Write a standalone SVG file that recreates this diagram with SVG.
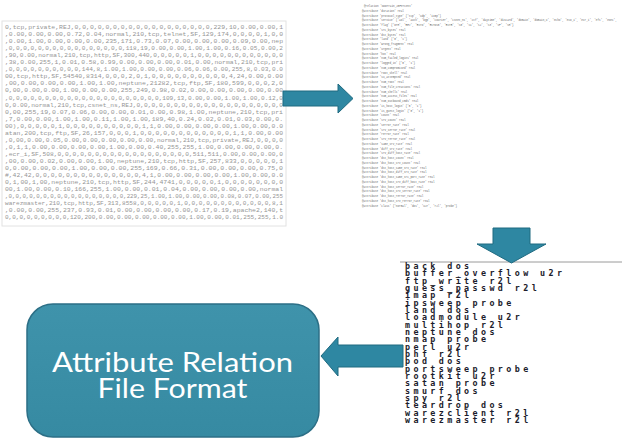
<svg xmlns="http://www.w3.org/2000/svg" width="631" height="440" viewBox="0 0 631 440">
<style>
.data{font-family:"Liberation Mono",monospace;font-size:6px;fill:#959595}
.hdr{font-family:"Liberation Mono",monospace;font-size:2.7px;fill:#666}
.lbl{font-family:"DejaVu Sans Mono",monospace;font-weight:bold;font-size:8.4px;letter-spacing:3.4px;fill:#1c1c2c}
.arrow{fill:#2e87a2;stroke:#1f6a80;stroke-width:1}
.box{fill:url(#boxg);stroke:#2c6f86;stroke-width:1.5}
.boxt{font-family:Lato,"Open Sans",sans-serif;font-size:27px;fill:#fff;text-anchor:middle}
</style>
<defs>
<linearGradient id="boxg" x1="0" y1="0" x2="0" y2="1">
<stop offset="0" stop-color="#3f93ab"/>
<stop offset="1" stop-color="#368aa2"/>
</linearGradient>
</defs>
<rect width="631" height="440" fill="#fff"/>
<g id="data-records">
<rect x="2" y="21" width="284" height="205" fill="#fff" stroke="#e2e2e2" stroke-width="1"/>
<g class="data">
<text x="5" y="29" textLength="278" lengthAdjust="spacingAndGlyphs">0,tcp,private,REJ,0,0,0,0,0,0,0,0,0,0,0,0,0,0,0,0,0,0,229,10,0.00,0.00,1</text>
<text x="5" y="36.05" textLength="278" lengthAdjust="spacingAndGlyphs">,0.00,0.00,0.00,0.72,0.04,normal,210,tcp,telnet,SF,129,174,0,0,0,0,1,0,0</text>
<text x="5" y="43.1" textLength="278" lengthAdjust="spacingAndGlyphs">,0.00,1.00,0.00,0.00,0.00,235,171,0.73,0.07,0.00,0.00,0.00,0.09,0.00,nep</text>
<text x="5" y="50.15" textLength="278" lengthAdjust="spacingAndGlyphs">,0,0,0,0,0,0,0,0,0,0,0,0,0,0,0,0,118,19,0.00,0.00,1.00,1.00,0.16,0.05,0.00,2</text>
<text x="5" y="57.2" textLength="278" lengthAdjust="spacingAndGlyphs">,90,0.00,normal,210,tcp,http,SF,300,440,0,0,0,0,0,1,0,0,0,0,0,0,0,0,0,0,0,0</text>
<text x="5" y="64.25" textLength="278" lengthAdjust="spacingAndGlyphs">,38,0.00,255,1,0.01,0.58,0.99,0.00,0.00,0.00,0.01,0.00,normal,210,tcp,pri</text>
<text x="5" y="71.3" textLength="278" lengthAdjust="spacingAndGlyphs">,0,0,0,0,0,0,0,0,0,0,144,8,1.00,1.00,0.00,0.00,0.06,0.06,0.00,255,8,0.03,0.0</text>
<text x="5" y="78.35" textLength="278" lengthAdjust="spacingAndGlyphs">00,tcp,http,SF,54540,8314,0,0,0,2,0,1,0,0,0,0,0,0,0,0,0,0,4,24,0.00,0.00</text>
<text x="5" y="85.4" textLength="278" lengthAdjust="spacingAndGlyphs">,00,0.00,0.00,0.00,1.00,1.00,neptune,21282,tcp,ftp,SF,180,599,0,0,0,2,0</text>
<text x="5" y="92.45" textLength="278" lengthAdjust="spacingAndGlyphs">0,00,0.00,0.00,1.00,0.00,0.00,255,249,0.98,0.02,0.00,0.00,0.00,0.00,0.00</text>
<text x="5" y="99.5" textLength="278" lengthAdjust="spacingAndGlyphs">,0,0,0,0,0,0,0,0,0,0,0,0,0,0,0,0,0,0,0,0,0,109,13,0.00,0.00,1.00,1.00,0.12,0</text>
<text x="5" y="106.55" textLength="278" lengthAdjust="spacingAndGlyphs">0,0.00,normal,210,tcp,csnet_ns,REJ,0,0,0,0,0,0,0,0,0,0,0,0,0,0,0,0,0,0,0,0</text>
<text x="5" y="113.6" textLength="278" lengthAdjust="spacingAndGlyphs">0,00,255,19,0.07,0.06,0.00,0.00,0.01,0.00,0.98,1.00,neptune,210,tcp,pri</text>
<text x="5" y="120.65" textLength="278" lengthAdjust="spacingAndGlyphs">,7,0.00,0.00,1.00,1.00,0.11,1.00,1.00,189,40,0.24,0.02,0.01,0.03,0.00,0.</text>
<text x="5" y="127.7" textLength="278" lengthAdjust="spacingAndGlyphs">00),0,0,0,0,0,1,0,0,0,0,0,0,0,0,0,0,1,1,0.00,0.00,0.00,0.00,1.00,0.00,0.0</text>
<text x="5" y="134.75" textLength="278" lengthAdjust="spacingAndGlyphs">atan,200,tcp,ftp,SF,26,157,0,0,0,1,0,0,0,0,0,0,0,0,0,0,0,0,1,1,0.00,0.00</text>
<text x="5" y="141.8" textLength="278" lengthAdjust="spacingAndGlyphs">,0,00,0.00,0.05,0.00,0.00,0.00,0.00,0.00,normal,210,tcp,private,REJ,0,0,0,0</text>
<text x="5" y="148.85" textLength="278" lengthAdjust="spacingAndGlyphs">,0,1,1,0.00,0.00,0.00,0.00,1.00,0.00,0.40,255,255,1.00,0.00,0.00,0.00,0.</text>
<text x="5" y="155.9" textLength="278" lengthAdjust="spacingAndGlyphs">,ecr_i,SF,508,0,0,0,0,0,0,0,0,0,0,0,0,0,0,0,0,0,0,511,511,0.00,0.00,0.00,0</text>
<text x="5" y="162.95" textLength="278" lengthAdjust="spacingAndGlyphs">,00,0.00,0.02,0.00,0.00,1.00,neptune,210,tcp,http,SF,257,833,0,0,0,0,0,1</text>
<text x="5" y="170" textLength="278" lengthAdjust="spacingAndGlyphs">0,0.00,0.00,0.00,1.00,0.00,0.00,255,169,0.66,0.31,0.00,0.00,0.00,0.75,0</text>
<text x="5" y="177.05" textLength="278" lengthAdjust="spacingAndGlyphs">#,42,42,0,0,0,0,0,0,0,0,0,0,0,0,0,0,4,1,0.00,0.00,0.00,0.00,1.00,0.00,0.0</text>
<text x="5" y="184.1" textLength="278" lengthAdjust="spacingAndGlyphs">0,1,00,1,00,neptune,210,tcp,http,SF,244,4741,0,0,0,0,0,1,0,0,0,0,0,0,0,0</text>
<text x="5" y="191.15" textLength="278" lengthAdjust="spacingAndGlyphs">00,1.00,0.00,0.10,166,255,1.00,0.00,0.01,0.04,0.00,0.00,0.00,0.00,normal</text>
<text x="5" y="198.2" textLength="278" lengthAdjust="spacingAndGlyphs">,0,0,0,0,0,0,0,0,0,0,0,0,0,0,0,0,0,229,25,1.00,1.00,0.00,0.00,0.08,0.07,0.00,255</text>
<text x="5" y="205.25" textLength="278" lengthAdjust="spacingAndGlyphs">warezmaster,210,tcp,http,SF,313,8558,0,0,0,0,0,1,0,0,0,0,0,0,0,0,0,0,0,0,8,1</text>
<text x="5" y="212.3" textLength="278" lengthAdjust="spacingAndGlyphs">,0.00,0.00,255,237,0.93,0.01,0.00,0.00,0.00,0.00,0.17,0.19,apache2,140,t</text>
<text x="5" y="219.35" textLength="278" lengthAdjust="spacingAndGlyphs">0,0,0,0,0,0,0,0,0,120,200,0.00,0.00,0.00,0.00,0.00,1.00,0.00,0.01,255,255,1.0</text>
</g>
</g>
<g id="arff-header" class="hdr">
<text x="364" y="7">@relation 'KDDTrain_20Percent'</text>
<text x="362" y="11.75">@attribute 'duration' real</text>
<text x="362" y="16.5">@attribute 'protocol_type' {'tcp', 'udp', 'icmp'}</text>
<text x="362" y="21.25">@attribute 'service' {'aol', 'auth', 'bgp', 'courier', 'csnet_ns', 'ctf', 'daytime', 'discard', 'domain', 'domain_u', 'echo', 'eco_i', 'ecr_i', 'efs', 'exec',</text>
<text x="362" y="26">@attribute 'flag' {'OTH', 'REJ', 'RSTO', 'RSTOS0', 'RSTR', 'S0', 'S1', 'S2', 'S3', 'SF', 'SH'}</text>
<text x="362" y="30.75">@attribute 'src_bytes' real</text>
<text x="362" y="35.5">@attribute 'dst_bytes' real</text>
<text x="362" y="40.25">@attribute 'land' {'0', '1'}</text>
<text x="362" y="45">@attribute 'wrong_fragment' real</text>
<text x="362" y="49.75">@attribute 'urgent' real</text>
<text x="362" y="54.5">@attribute 'hot' real</text>
<text x="362" y="59.25">@attribute 'num_failed_logins' real</text>
<text x="362" y="64">@attribute 'logged_in' {'0', '1'}</text>
<text x="362" y="68.75">@attribute 'num_compromised' real</text>
<text x="362" y="73.5">@attribute 'root_shell' real</text>
<text x="362" y="78.25">@attribute 'su_attempted' real</text>
<text x="362" y="83">@attribute 'num_root' real</text>
<text x="362" y="87.75">@attribute 'num_file_creations' real</text>
<text x="362" y="92.5">@attribute 'num_shells' real</text>
<text x="362" y="97.25">@attribute 'num_access_files' real</text>
<text x="362" y="102">@attribute 'num_outbound_cmds' real</text>
<text x="362" y="106.75">@attribute 'is_host_login' {'0', '1'}</text>
<text x="362" y="111.5">@attribute 'is_guest_login' {'0', '1'}</text>
<text x="362" y="116.25">@attribute 'count' real</text>
<text x="362" y="121">@attribute 'srv_count' real</text>
<text x="362" y="125.75">@attribute 'serror_rate' real</text>
<text x="362" y="130.5">@attribute 'srv_serror_rate' real</text>
<text x="362" y="135.25">@attribute 'rerror_rate' real</text>
<text x="362" y="140">@attribute 'srv_rerror_rate' real</text>
<text x="362" y="144.75">@attribute 'same_srv_rate' real</text>
<text x="362" y="149.5">@attribute 'diff_srv_rate' real</text>
<text x="362" y="154.25">@attribute 'srv_diff_host_rate' real</text>
<text x="362" y="159">@attribute 'dst_host_count' real</text>
<text x="362" y="163.75">@attribute 'dst_host_srv_count' real</text>
<text x="362" y="168.5">@attribute 'dst_host_same_srv_rate' real</text>
<text x="362" y="173.25">@attribute 'dst_host_diff_srv_rate' real</text>
<text x="362" y="178">@attribute 'dst_host_same_src_port_rate' real</text>
<text x="362" y="182.75">@attribute 'dst_host_srv_diff_host_rate' real</text>
<text x="362" y="187.5">@attribute 'dst_host_serror_rate' real</text>
<text x="362" y="192.25">@attribute 'dst_host_srv_serror_rate' real</text>
<text x="362" y="197">@attribute 'dst_host_rerror_rate' real</text>
<text x="362" y="201.75">@attribute 'dst_host_srv_rerror_rate' real</text>
<text x="362" y="206.5">@attribute 'class' {'normal', 'dos', 'u2r', 'r2l', 'probe'}</text>
</g>
<g id="attack-labels">
<line x1="400" y1="262" x2="622" y2="262" stroke="#9a9a9a" stroke-width="1"/>
<g class="lbl">
<text x="405" y="269">back dos</text>
<text x="405" y="276.33">buffer_overflow u2r</text>
<text x="405" y="283.66">ftp_write r2l</text>
<text x="405" y="291">guess_passwd r2l</text>
<text x="405" y="298.33">imap r2l</text>
<text x="405" y="305.66">ipsweep probe</text>
<text x="405" y="313">land dos</text>
<text x="405" y="320.33">loadmodule u2r</text>
<text x="405" y="327.66">multihop r2l</text>
<text x="405" y="335">neptune dos</text>
<text x="405" y="342.33">nmap probe</text>
<text x="405" y="349.66">perl u2r</text>
<text x="405" y="357">phf r2l</text>
<text x="405" y="364.33">pod dos</text>
<text x="405" y="371.66">portsweep probe</text>
<text x="405" y="379">rootkit u2r</text>
<text x="405" y="386.33">satan probe</text>
<text x="405" y="393.66">smurf dos</text>
<text x="405" y="401">spy r2l</text>
<text x="405" y="408.33">teardrop dos</text>
<text x="405" y="415.66">warezclient r2l</text>
<text x="405" y="423">warezmaster r2l</text>
</g>
</g>
<g id="arff-format">
<rect class="box" x="27" y="304" width="292" height="133" rx="26" ry="26"/>
<text class="boxt" x="172.5" y="372" textLength="241" lengthAdjust="spacingAndGlyphs">Attribute Relation</text>
<text class="boxt" x="172.5" y="398" textLength="150" lengthAdjust="spacingAndGlyphs">File Format</text>
</g>
<g id="connectors">
<polygon class="arrow" points="283,91 338,91 338,84 353,98.5 338,113 338,106 283,106"/>
<polygon class="arrow" points="493,228 530,228 530,244 546,244 511.5,263 477,244 493,244"/>
<polygon class="arrow" points="321,356 338,337 338,345 403,345 403,367 338,367 338,376"/>
</g>
</svg>
